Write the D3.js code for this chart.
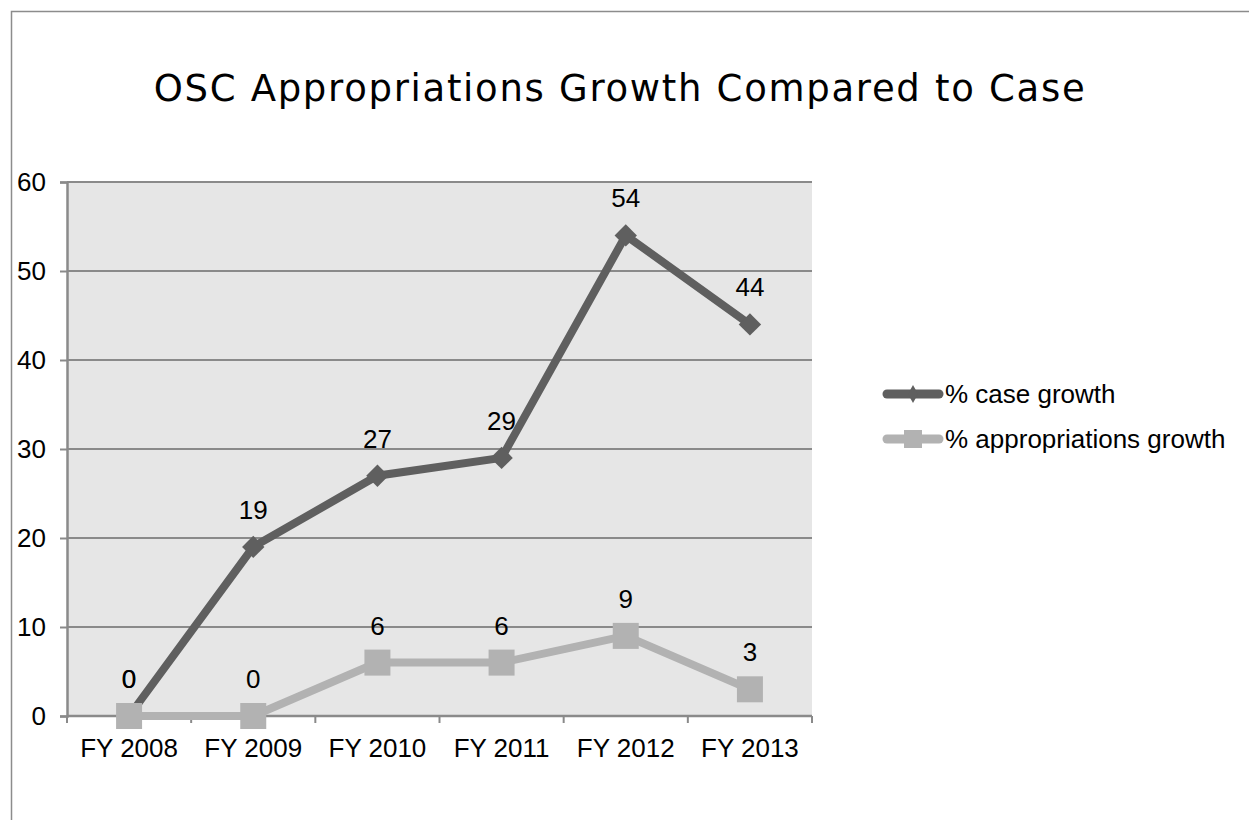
<!DOCTYPE html>
<html>
<head>
    <script type="text/javascript" src="https://d3js.org/d3.v7.min.js"></script>
    <style>
        body { margin: 0; background: #fff; }
        text { font-family: "Liberation Sans", Arial, sans-serif; }
    </style>
</head>
<body>
    <div id="viz"></div>
    <script type="text/javascript">

    var categories = ["FY 2008", "FY 2009", "FY 2010", "FY 2011", "FY 2012", "FY 2013"];
    var caseGrowth = [0, 19, 27, 29, 54, 44];
    var appropGrowth = [0, 0, 6, 6, 9, 3];
    var yTicks = [0, 10, 20, 30, 40, 50, 60];
    var seriesNames = ["% case growth", "% appropriations growth"];

    var W = 1249, H = 820;
    var plot = {left: 67, top: 182, right: 812, bottom: 716};
    var dark = "#5f5f5f", light = "#b2b2b2", axisGray = "#8a8a8a";

    var svg = d3.select("#viz")
        .append("svg")
        .attr("width", W)
        .attr("height", H);

    // outer frame
    svg.append("path")
        .attr("d", "M11.5," + H + "V11.5H" + W)
        .style("fill", "none")
        .style("stroke", "#8c8c8c")
        .style("stroke-width", 1.5);

    var x = d3.scaleBand()
        .domain(categories)
        .range([plot.left, plot.right]);

    var y = d3.scaleLinear()
        .domain([0, 60])
        .range([plot.bottom, plot.top]);

    // plot background
    svg.append("rect")
        .attr("x", plot.left)
        .attr("y", plot.top)
        .attr("width", plot.right - plot.left)
        .attr("height", plot.bottom - plot.top)
        .style("fill", "#e6e6e6");

    // gridlines
    svg.selectAll("line.grid")
        .data(yTicks.slice(1))
        .enter().append("line")
        .attr("class", "grid")
        .attr("x1", plot.left)
        .attr("x2", plot.right)
        .attr("y1", function(d){ return y(d); })
        .attr("y2", function(d){ return y(d); })
        .style("stroke", axisGray)
        .style("stroke-width", 2);

    // y axis
    var yAxis = svg.append("g")
        .attr("transform", "translate(" + plot.left + ",0)")
        .call(d3.axisLeft(y).tickValues(yTicks).tickSize(7).tickPadding(14));
    yAxis.select(".domain").style("stroke", axisGray).style("stroke-width", 2.5);
    yAxis.selectAll(".tick line").style("stroke", axisGray).style("stroke-width", 2);
    yAxis.selectAll("text").style("font-size", "26px").style("fill", "#000")
        .style("font-family", "Liberation Sans, Arial, sans-serif");

    // x axis with ticks between categories
    var xAxisG = svg.append("g")
        .attr("transform", "translate(0," + plot.bottom + ")");
    xAxisG.append("line")
        .attr("x1", plot.left).attr("x2", plot.right)
        .style("stroke", axisGray).style("stroke-width", 2.5);
    var bounds = categories.map(function(c){ return x(c); }).concat([plot.right]);
    xAxisG.selectAll("line.tk")
        .data(bounds)
        .enter().append("line")
        .attr("class", "tk")
        .attr("x1", function(d){ return d; })
        .attr("x2", function(d){ return d; })
        .attr("y1", 0).attr("y2", 7)
        .style("stroke", axisGray).style("stroke-width", 2);
    xAxisG.selectAll("text")
        .data(categories)
        .enter().append("text")
        .attr("x", function(d){ return x(d) + x.bandwidth() / 2; })
        .attr("y", 41)
        .attr("text-anchor", "middle")
        .style("font-size", "26px")
        .text(function(d){ return d; });

    var cx = function(d, i){ return x(categories[i]) + x.bandwidth() / 2; };

    var line = d3.line()
        .x(function(d, i){ return cx(d, i); })
        .y(function(d){ return y(d); });

    // case series (drawn first, appropriations sits on top)
    svg.append("path")
        .datum(caseGrowth)
        .attr("d", line)
        .style("fill", "none")
        .style("stroke", dark)
        .style("stroke-width", 8);

    var diamond = d3.symbol().type(d3.symbolDiamond2).size(320);
    svg.selectAll("path.dm")
        .data(caseGrowth)
        .enter().append("path")
        .attr("class", "dm")
        .attr("d", diamond)
        .attr("transform", function(d, i){ return "translate(" + cx(d, i) + "," + y(d) + ")"; })
        .style("fill", dark);

    // appropriations series
    svg.append("path")
        .datum(appropGrowth)
        .attr("d", line)
        .style("fill", "none")
        .style("stroke", light)
        .style("stroke-width", 8);

    svg.selectAll("rect.sq")
        .data(appropGrowth)
        .enter().append("rect")
        .attr("class", "sq")
        .attr("x", function(d, i){ return cx(d, i) - 13; })
        .attr("y", function(d){ return y(d) - 13; })
        .attr("width", 26)
        .attr("height", 26)
        .style("fill", light);

    // data labels
    function labels(data, cls) {
        svg.selectAll("text." + cls)
            .data(data)
            .enter().append("text")
            .attr("class", cls)
            .attr("x", function(d, i){ return cx(d, i); })
            .attr("y", function(d){ return y(d) - 28; })
            .attr("text-anchor", "middle")
            .style("font-size", "26px")
            .text(function(d){ return d; });
    }
    labels(caseGrowth, "lc");
    labels(appropGrowth, "la");

    // title
    svg.append("text")
        .attr("x", 620)
        .attr("y", 101)
        .attr("text-anchor", "middle")
        .style("font-size", "37px")
        .style("font-family", "DejaVu Sans, Verdana, sans-serif")
        .style("letter-spacing", "1.7px")
        .text("OSC Appropriations Growth Compared to Case");

    // legend
    var legend = svg.selectAll("g.leg")
        .data(seriesNames)
        .enter().append("g")
        .attr("class", "leg")
        .attr("transform", function(d, i){ return "translate(887," + (394 + i * 45) + ")"; });
    legend.append("line")
        .attr("x1", 0).attr("x2", 52)
        .style("stroke", function(d, i){ return i ? light : dark; })
        .style("stroke-width", 9)
        .style("stroke-linecap", "round");
    legend.filter(function(d, i){ return i === 0; }).append("path")
        .attr("d", "M0,-9L5,0L0,9L-5,0Z")
        .attr("transform", "translate(26,0)")
        .style("fill", dark);
    legend.filter(function(d, i){ return i === 1; }).append("rect")
        .attr("x", 17).attr("y", -9).attr("width", 18).attr("height", 18)
        .style("fill", light);
    legend.append("text")
        .attr("x", 58)
        .attr("y", 9)
        .style("font-size", "26px")
        .text(function(d){ return d; });

    </script>
</body>
</html>
